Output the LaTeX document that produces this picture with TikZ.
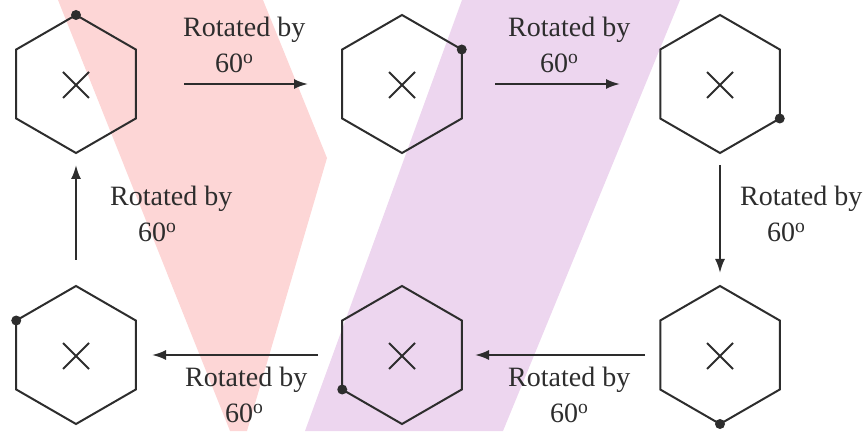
\documentclass[tikz,border=0pt]{standalone}
\usepackage{fontspec}
\setmainfont{Liberation Serif}
\usetikzlibrary{positioning, arrows.meta, shapes.geometric}
\definecolor{bandpink}{RGB}{253,214,214}
\definecolor{bandviolet}{RGB}{237,214,239}
\definecolor{ink}{RGB}{45,45,45}

\begin{document}
\begin{tikzpicture}[
  x=1pt, y=1pt,
  font=\fontsize{28}{36}\selectfont,
  hexa/.style={draw=ink, regular polygon, regular polygon sides=6,
    shape border rotate=30, minimum size=138pt, inner sep=0pt,
    outer sep=0pt, line width=2pt},
  lbl/.style={align=left, inner sep=0pt, text=ink, anchor=west},
  arrow/.style={-{Latex[length=14pt,width=10pt]}, line width=2pt, draw=ink},
  marker/.style={fill=ink},
]
  \useasboundingbox (0,0) rectangle (867,431);

  % coloured bands behind the hexagons
  \fill[bandpink] (58,431) -- (263,431) -- (327,273) -- (247,0) -- (230,0) -- cycle;
  \fill[bandviolet] (462,431) -- (680,431) -- (503,0) -- (305,0) -- cycle;

  \node[hexa] (h1) at (76,347) {};
  \node[hexa] (h2) at (402,347) {};
  \node[hexa] (h3) at (720,347) {};
  \node[hexa] (h4) at (720,76) {};
  \node[hexa] (h5) at (402,76) {};
  \node[hexa] (h6) at (76,76) {};

  % centre cross and the marked corner
  \foreach \h/\a in {h1/90, h2/30, h3/330, h4/270, h5/210, h6/150} {
    \draw[ink, line width=2pt] (\h.center) +(-13,-14) -- +(13,12)
                                          +(-13,12) -- +(13,-14);
    \fill[marker] (\h.\a) circle (5);
  }

  \node[lbl] (l1) at (183,386) {Rotated by\\\hspace*{32pt}60\textsuperscript{o}};
  \node[lbl] (l2) at (508,386) {Rotated by\\\hspace*{32pt}60\textsuperscript{o}};
  \node[lbl] (l3) at (740,217) {Rotated by\\\hspace*{27pt}60\textsuperscript{o}};
  \node[lbl] (l4) at (508,36) {Rotated by\\\hspace*{42pt}60\textsuperscript{o}};
  \node[lbl] (l5) at (185,36) {Rotated by\\\hspace*{40pt}60\textsuperscript{o}};
  \node[lbl] (l6) at (110,217) {Rotated by\\\hspace*{28pt}60\textsuperscript{o}};

  \draw[arrow] ([xshift=108pt]h1.center) -- ([xshift=-94pt]h2.center);
  \draw[arrow] ([xshift=93pt]h2.center) -- ([xshift=-100pt]h3.center);
  \draw[arrow] ([yshift=-81pt]h3.center) -- ([yshift=82pt]h4.center);
  \draw[arrow] ([xshift=-75pt]h4.center) -- ([xshift=73pt]h5.center);
  \draw[arrow] ([xshift=-84pt]h5.center) -- ([xshift=76pt]h6.center);
  \draw[arrow] ([yshift=95pt]h6.center) -- ([yshift=-81pt]h1.center);
\end{tikzpicture}
\end{document}
